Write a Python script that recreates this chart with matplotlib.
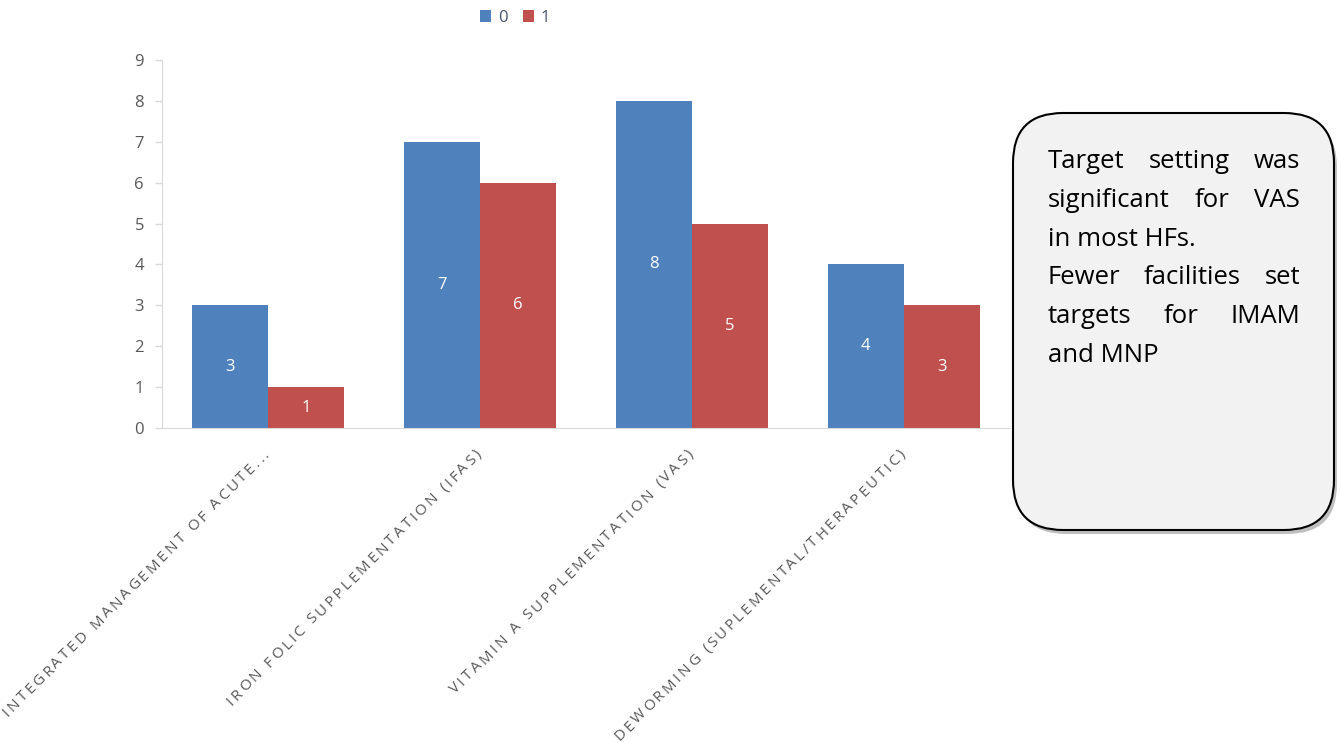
import matplotlib
matplotlib.use("Agg")
import matplotlib.pyplot as plt
from matplotlib.patches import FancyBboxPatch
import numpy as np

categories = [
    "INTEGRATED MANAGEMENT OF ACUTE...",
    "IRON FOLIC SUPPLEMENTATION (IFAS)",
    "VITAMIN A SUPPLEMENTATION (VAS)",
    "DEWORMING (SUPLEMENTAL/THERAPEUTIC)",
]
series_names = ["0", "1"]
values_0 = [3, 7, 8, 4]
values_1 = [1, 6, 5, 3]
yticks = list(range(0, 10))

note_lines = [
    ("Target setting was", True),
    ("significant for VAS", True),
    ("in most HFs.", False),
    ("Fewer facilities set", True),
    ("targets for IMAM", True),
    ("and MNP", False),
]

BLUE = "#4F81BD"
RED = "#C0504D"
GRAY_TXT = "#595959"
AXIS_GRAY = "#D9D9D9"

plt.rcParams['font.family'] = ['Open Sans', 'DejaVu Sans']

W, H = 1341, 743
fig = plt.figure(figsize=(W / 100, H / 100), dpi=100)
ax = fig.add_axes([162 / W, 1 - 428 / H, (1010 - 162) / W, (428 - 60) / H])

x = np.arange(len(categories))
bw = 0.36
b0 = ax.bar(x - bw / 2, values_0, bw, color=BLUE, label=series_names[0])
b1 = ax.bar(x + bw / 2, values_1, bw, color=RED, label=series_names[1])
for bars, vals in ((b0, values_0), (b1, values_1)):
    for r, v in zip(bars, vals):
        ax.text(r.get_x() + r.get_width() / 2, v / 2, str(v), ha="center", va="center",
                color="white", fontsize=12)

ax.set_xlim(-0.5, len(categories) - 0.5)
ax.set_ylim(0, 9)
ax.set_yticks(yticks)
ax.set_yticklabels([str(t) for t in yticks], color=GRAY_TXT, fontsize=12)
ax.tick_params(axis="y", length=5, color=AXIS_GRAY, width=1, pad=8)
ax.set_xticks([])
for s in ("top", "right"):
    ax.spines[s].set_visible(False)
ax.spines["left"].set_color(AXIS_GRAY)
ax.spines["bottom"].set_color(AXIS_GRAY)

# legend
fig.legend(handles=[b0, b1], labels=series_names, loc="center",
           bbox_to_anchor=(515 / W, 1 - 18 / H), ncol=2, frameon=False,
           fontsize=12, handlelength=0.7, handleheight=0.7, handletextpad=0.4,
           columnspacing=0.9, labelcolor="#44546A")

# overlay pixel axes (y down) for rotated labels and note box
ov = fig.add_axes([0, 0, 1, 1], zorder=5)
ov.patch.set_alpha(0)
ov.set_xlim(0, W)
ov.set_ylim(H, 0)
ov.axis("off")

fig.canvas.draw()
renderer = fig.canvas.get_renderer()

# rotated category labels with letter spacing (drawn char by char)
lab_fs = 11
tracking = 2.6
ux, uy = np.cos(np.pi / 4), -np.sin(np.pi / 4)
for i, c in enumerate(categories):
    tick_px = ax.transData.transform((i, 0))[0]
    end_x, end_y = tick_px + 2, 455  # baseline end (pixels, y down)
    objs, advs = [], []
    for ch in c:
        t = ov.text(0, 0, ch, fontsize=lab_fs, color=GRAY_TXT, rotation=45,
                    rotation_mode="anchor", ha="left", va="baseline")
        fp = t.get_fontproperties()
        if ch == " ":
            w = renderer.get_text_width_height_descent("a a", fp, False)[0] - \
                renderer.get_text_width_height_descent("aa", fp, False)[0]
        else:
            w = renderer.get_text_width_height_descent(ch, fp, False)[0]
        objs.append(t)
        advs.append(w)
    L = sum(advs) + tracking * (len(c) - 1)
    s = 0.0
    for t, w in zip(objs, advs):
        t.set_position((end_x - (L - s) * ux, end_y - (L - s) * uy))
        s += w + tracking

# note box
bx0, by0, bx1, by1 = 1013, 113, 1334, 530
shadow = FancyBboxPatch((bx0 + 3, by0 + 4), bx1 - bx0, by1 - by0,
                        boxstyle="round,pad=0,rounding_size=50", fc="#BFBFBF", ec="none")
ov.add_patch(shadow)
box = FancyBboxPatch((bx0, by0), bx1 - bx0, by1 - by0,
                     boxstyle="round,pad=0,rounding_size=50", fc="#F2F2F2", ec="black", lw=1.5)
ov.add_patch(box)

tx0, tx1 = 1048, 1300
base0, lstep = 168, 38.8
fs = 18.5
for li, (line, justify) in enumerate(note_lines):
    yb = base0 + li * lstep
    words = line.split()
    if not justify:
        ov.text(tx0, yb, line, ha="left", va="baseline", fontsize=fs, color="black")
        continue
    objs = [ov.text(0, yb, w, ha="left", va="baseline", fontsize=fs, color="black") for w in words]
    widths = [o.get_window_extent(renderer).width for o in objs]
    gap = (tx1 - tx0 - sum(widths)) / (len(words) - 1)
    xx = tx0
    for o, wd in zip(objs, widths):
        o.set_x(xx)
        xx += wd + gap

fig.savefig("out.png", dpi=100)
